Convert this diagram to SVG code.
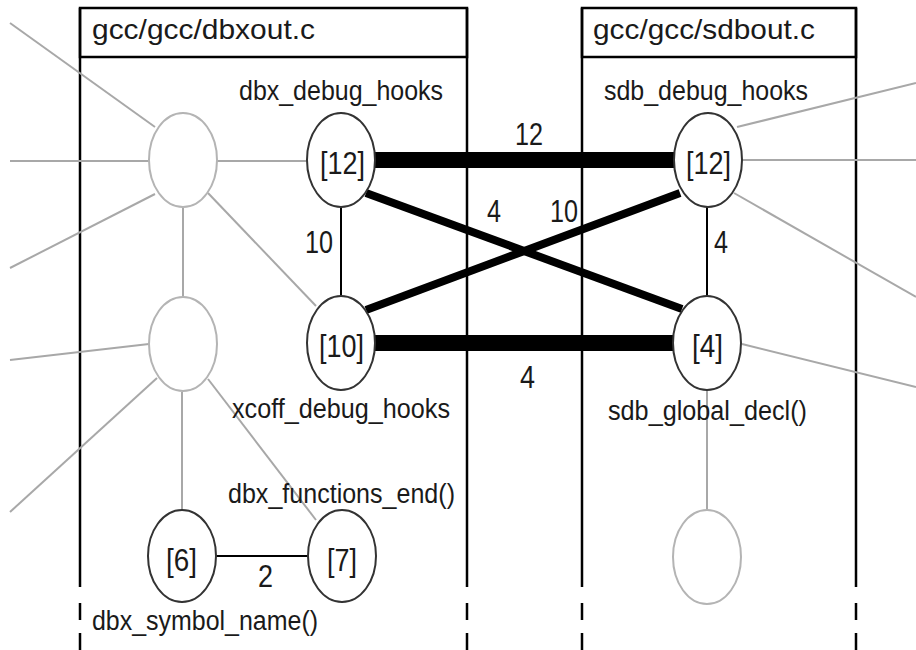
<svg xmlns="http://www.w3.org/2000/svg" width="916" height="650" viewBox="0 0 916 650">
  <style>
    text { font-family: "Liberation Sans", Arial, sans-serif; fill: #1a1a1a; }
    .hdr { font-size: 28px; }
    .lbl { font-size: 27px; }
    .num { font-size: 32px; }
    .idx { font-size: 32px; }
    .box { fill: none; stroke: #000; stroke-width: 2.5; }
    .wall { stroke: #000; stroke-width: 2.5; stroke-dasharray: 579 16 17 13 30; }
    .ghost { fill: #fff; stroke: #b4b4b4; stroke-width: 2; }
    .node { fill: #fff; stroke: #333; stroke-width: 2; }
    .glink { stroke: #a8a8a8; stroke-width: 2; fill: none; }
    .thin { stroke: #000; stroke-width: 2; }
    .mid { stroke: #000; stroke-width: 8; }
    .fat { stroke: #000; stroke-width: 16; }
  </style>

  <!-- file containers -->
  <g id="file-dbxout">
    <line class="wall" x1="80" y1="8" x2="80" y2="650"/>
    <line class="wall" x1="467" y1="8" x2="467" y2="650"/>
    <rect class="box" x="80" y="8" width="387" height="49"/>
    <text class="hdr" x="92" y="39" textLength="223" lengthAdjust="spacingAndGlyphs">gcc/gcc/dbxout.c</text>
  </g>
  <g id="file-sdbout">
    <line class="wall" x1="582" y1="8" x2="582" y2="650"/>
    <line class="wall" x1="856" y1="8" x2="856" y2="650"/>
    <rect class="box" x="582" y="8" width="274" height="49"/>
    <text class="hdr" x="593" y="39" textLength="222" lengthAdjust="spacingAndGlyphs">gcc/gcc/sdbout.c</text>
  </g>

  <!-- connectors -->
  <g id="connectors">
    <!-- faint links to unnamed neighbours -->
    <line class="glink" x1="10" y1="23" x2="155" y2="127"/>
    <line class="glink" x1="10" y1="161" x2="149" y2="161"/>
    <line class="glink" x1="10" y1="268" x2="155" y2="194"/>
    <line class="glink" x1="183" y1="208" x2="183" y2="296"/>
    <line class="glink" x1="217" y1="161" x2="307" y2="161"/>
    <line class="glink" x1="208" y1="193" x2="316" y2="306"/>
    <line class="glink" x1="10" y1="360" x2="149" y2="344"/>
    <line class="glink" x1="157" y1="378" x2="10" y2="512"/>
    <line class="glink" x1="182" y1="392" x2="182" y2="510"/>
    <line class="glink" x1="208" y1="379" x2="316" y2="520"/>
    <line class="glink" x1="737" y1="127" x2="916" y2="83"/>
    <line class="glink" x1="742" y1="160" x2="916" y2="160"/>
    <line class="glink" x1="734" y1="193" x2="916" y2="297"/>
    <line class="glink" x1="742" y1="344" x2="916" y2="387"/>
    <line class="glink" x1="707" y1="390" x2="707" y2="510"/>

    <!-- weighted links -->
    <line class="thin" x1="341" y1="207" x2="341" y2="296"/>
    <line class="thin" x1="707" y1="207" x2="707" y2="296"/>
    <line class="thin" x1="216" y1="556" x2="308" y2="556"/>
    <line class="fat" x1="374" y1="160" x2="674" y2="160"/>
    <line class="fat" x1="374" y1="343" x2="673" y2="343"/>
    <line class="mid" x1="366" y1="193" x2="682" y2="309"/>
    <line class="mid" x1="366" y1="310" x2="680" y2="193"/>

    <text class="num" x="515" y="145" textLength="28" lengthAdjust="spacingAndGlyphs">12</text>
    <text class="num" x="305" y="253" textLength="28" lengthAdjust="spacingAndGlyphs">10</text>
    <text class="num" x="487" y="222" textLength="14" lengthAdjust="spacingAndGlyphs">4</text>
    <text class="num" x="550" y="222" textLength="28" lengthAdjust="spacingAndGlyphs">10</text>
    <text class="num" x="714" y="253" textLength="14" lengthAdjust="spacingAndGlyphs">4</text>
    <text class="num" x="520" y="388" textLength="15" lengthAdjust="spacingAndGlyphs">4</text>
    <text class="num" x="258" y="587" textLength="15" lengthAdjust="spacingAndGlyphs">2</text>
  </g>

  <!-- unnamed neighbours -->
  <g id="ghost-a"><ellipse class="ghost" cx="183" cy="160" rx="34" ry="47"/></g>
  <g id="ghost-b"><ellipse class="ghost" cx="183" cy="344" rx="34" ry="47"/></g>
  <g id="ghost-c"><ellipse class="ghost" cx="707" cy="557" rx="34" ry="47"/></g>

  <!-- named nodes -->
  <g id="dbx_debug_hooks">
    <ellipse class="node" cx="341" cy="160" rx="34" ry="47"/>
    <text class="idx" x="320" y="174" textLength="45" lengthAdjust="spacingAndGlyphs">[12]</text>
    <text class="lbl" x="239" y="100" textLength="204" lengthAdjust="spacingAndGlyphs">dbx_debug_hooks</text>
  </g>
  <g id="xcoff_debug_hooks">
    <ellipse class="node" cx="341" cy="343" rx="34" ry="47"/>
    <text class="idx" x="319" y="357" textLength="45" lengthAdjust="spacingAndGlyphs">[10]</text>
    <text class="lbl" x="232" y="418" textLength="218" lengthAdjust="spacingAndGlyphs">xcoff_debug_hooks</text>
  </g>
  <g id="sdb_debug_hooks">
    <ellipse class="node" cx="708" cy="160" rx="34" ry="47"/>
    <text class="idx" x="686" y="174" textLength="45" lengthAdjust="spacingAndGlyphs">[12]</text>
    <text class="lbl" x="604" y="100" textLength="204" lengthAdjust="spacingAndGlyphs">sdb_debug_hooks</text>
  </g>
  <g id="sdb_global_decl">
    <ellipse class="node" cx="707" cy="343" rx="34" ry="47"/>
    <text class="idx" x="692" y="357" textLength="31" lengthAdjust="spacingAndGlyphs">[4]</text>
    <text class="lbl" x="608" y="420" textLength="199" lengthAdjust="spacingAndGlyphs">sdb_global_decl()</text>
  </g>
  <g id="dbx_symbol_name">
    <ellipse class="node" cx="182" cy="556" rx="34" ry="46"/>
    <text class="idx" x="166" y="571" textLength="31" lengthAdjust="spacingAndGlyphs">[6]</text>
    <text class="lbl" x="92" y="630" textLength="226" lengthAdjust="spacingAndGlyphs">dbx_symbol_name()</text>
  </g>
  <g id="dbx_functions_end">
    <ellipse class="node" cx="342" cy="556" rx="34" ry="46"/>
    <text class="idx" x="327" y="571" textLength="30" lengthAdjust="spacingAndGlyphs">[7]</text>
    <text class="lbl" x="228" y="503" textLength="227" lengthAdjust="spacingAndGlyphs">dbx_functions_end()</text>
  </g>
</svg>
